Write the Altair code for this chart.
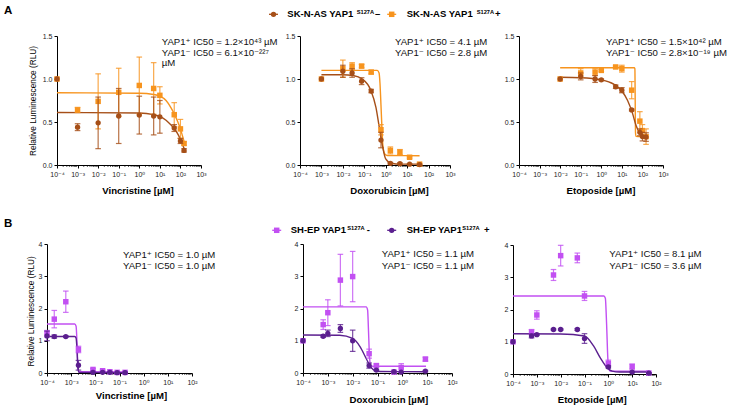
import altair as alt
import pandas as pd

W, H = 729, 408
FONT = "Liberation Sans, Arial, DejaVu Sans, sans-serif"

BROWN = "#a64f18"
ORANGE = "#f7941e"
LILAC = "#c250f2"
PURPLE = "#5b1f8f"

# ---------------- data ----------------
# Row A : SK-N-AS  (minus = brown circles, plus = orange squares)
A1_dose = [1e-4, 1e-3, 1e-2, 0.1, 1, 5, 10, 50, 100, 150]
A1_minus_mean = [1.00, 0.44, 0.49, 0.57, 0.58, 0.57, 0.56, 0.43, 0.28, 0.17]
A1_minus_err = [0, 0.04, 0.30, 0.32, 0.22, 0.22, 0.19, 0.04, 0.03, 0.02]
A1_plus_mean = [1.00, 0.64, 0.74, 0.845, 0.925, 0.89, 0.81, 0.585, 0.42, 0.25]
A1_plus_err = [0, 0.03, 0.32, 0.28, 0.33, 0.30, 0.10, 0.14, 0.11, 0.02]
A1_curve_dose = [1e-4, 1, 5, 10, 20, 35, 50, 75, 100, 125, 160]
A1_curve_plus = [0.84, 0.835, 0.82, 0.80, 0.75, 0.665, 0.595, 0.50, 0.42, 0.34, 0.25]
A1_curve_minus = [0.61, 0.605, 0.585, 0.565, 0.52, 0.465, 0.425, 0.36, 0.30, 0.245, 0.17]

A2_dose = [1e-3, 1e-2, 0.027, 0.075, 0.21, 0.6, 1.65, 4.6, 13, 38]
A2_minus_mean = [1.00, 1.09, 1.07, 0.975, 0.86, 0.29, 0.02, 0.015, 0.01, 0.005]
A2_minus_err = [0, 0.07, 0.05, 0.04, 0.02, 0.09, 0.01, 0.01, 0.005, 0.005]
A2_plus_mean = [1.00, 1.12, 1.15, 1.15, 1.08, 0.41, 0.17, 0.15, 0.09, 0.01]
A2_plus_err = [0, 0.10, 0.04, 0.02, 0.02, 0.06, 0.04, 0.03, 0.01, 0.01]
A2_curve_plus_dose = [1e-3, 0.1, 0.4, 0.49, 0.54, 0.6, 0.67, 0.74, 0.9, 1.2, 38]
A2_curve_plus = [1.10, 1.10, 1.10, 1.07, 0.95, 0.70, 0.42, 0.22, 0.13, 0.11, 0.108]
A2_curve_minus_dose = [1e-3, 0.01, 0.03, 0.08, 0.2, 0.35, 0.5, 0.72, 1.0, 1.8, 5, 38]
A2_curve_minus = [1.05, 1.05, 1.04, 1.0, 0.87, 0.67, 0.44, 0.21, 0.07, 0.02, 0.01, 0.01]

A3_dose = [0.01, 0.1, 0.5, 1, 5, 10, 30, 75, 100, 150]
A3_minus_mean = [1.00, 1.03, 1.00, 0.99, 0.91, 0.87, 0.64, 0.38, 0.33, 0.325]
A3_minus_err = [0, 0.04, 0.04, 0.01, 0.02, 0.03, 0.01, 0.04, 0.05, 0.05]
A3_plus_mean = [1.00, 1.07, 1.08, 1.10, 1.14, 1.12, 0.87, 0.51, 0.40, 0.33]
A3_plus_err = [0, 0.05, 0.04, 0.01, 0.01, 0.04, 0.10, 0.11, 0.07, 0.09]
A3_curve_plus_dose = [0.01, 40, 43, 44, 45, 46, 48, 180]
A3_curve_plus = [1.13, 1.13, 1.12, 0.90, 0.60, 0.38, 0.335, 0.33]
A3_curve_minus_dose = [0.01, 0.1, 1, 4, 10, 19, 33, 49, 71, 126, 180]
A3_curve_minus = [1.02, 1.015, 0.99, 0.94, 0.86, 0.75, 0.60, 0.46, 0.38, 0.33, 0.32]

# Row B : SH-EP  (minus = lilac squares, plus = dark purple circles)
B1_dose = [1e-4, 2e-4, 6e-4, 2e-3, 8e-3, 0.02, 0.04, 0.08, 0.17]
B1_minus_mean = [1.22, 1.67, 2.21, 0.73, 0.11, 0.07, 0.04, 0.02, 0.02]
B1_minus_err = [0.10, 0.27, 0.33, 0.10, 0.03, 0.02, 0.01, 0.01, 0.01]
B1_plus_mean = [1.15, 1.13, 1.13, 0.24, 0.02, 0.02, 0.02, 0.01, 0.01]
B1_plus_err = [0.15, 0.05, 0.02, 0.15, 0.01, 0.01, 0.01, 0.01, 0.01]
B1_curve_dose = [1e-4, 1.4e-3, 1.6e-3, 1.75e-3, 1.9e-3, 2.1e-3, 0.18]
B1_curve_minus = [1.52, 1.52, 1.45, 0.90, 0.20, 0.04, 0.03]
B1_curve_plus = [1.13, 1.13, 1.08, 0.70, 0.15, 0.02, 0.01]

B2_dose = [1e-4, 6.5e-4, 1e-3, 3.2e-3, 0.01, 0.046, 0.09, 0.46, 0.9, 8.5]
B2_minus_mean = [1.00, 1.50, 1.87, 2.88, 2.99, 0.60, 0.23, 0.03, 0.17, 0.43]
B2_minus_err = [0, 0.15, 0.40, 0.80, 0.78, 0.14, 0.05, 0.01, 0.12, 0.06]
B2_plus_mean = [1.00, 1.14, 1.23, 1.38, 1.00, 0.23, 0.09, 0.04, 0.03, 0.06]
B2_plus_err = [0, 0.03, 0.10, 0.12, 0.33, 0.08, 0.02, 0.01, 0.01, 0.02]
B2_curve_minus_dose = [1e-4, 0.035, 0.040, 0.043, 0.047, 0.052, 0.06, 9]
B2_curve_minus = [2.05, 2.05, 1.95, 1.40, 0.60, 0.25, 0.21, 0.21]
B2_curve_plus_dose = [1e-4, 3e-3, 0.01, 0.02, 0.035, 0.052, 0.083, 0.13, 9]
B2_curve_plus = [1.18, 1.17, 1.07, 0.81, 0.45, 0.20, 0.07, 0.045, 0.04]

B3_dose = [1e-4, 6e-4, 1e-3, 5e-3, 0.01, 0.05, 0.1, 1, 10, 50]
B3_minus_mean = [1.00, 1.30, 1.83, 3.07, 3.67, 3.60, 2.42, 0.33, 0.23, 0.03]
B3_minus_err = [0, 0.08, 0.13, 0.17, 0.32, 0.15, 0.14, 0.10, 0.08, 0.01]
B3_plus_mean = [1.00, 1.18, 1.22, 1.38, 1.38, 1.38, 1.10, 0.22, 0.06, 0.03]
B3_plus_err = [0, 0.06, 0.02, 0.02, 0.02, 0.03, 0.15, 0.03, 0.02, 0.01]
B3_curve_minus_dose = [1e-4, 0.65, 0.75, 0.85, 0.95, 1.05, 1.2, 55]
B3_curve_minus = [2.42, 2.42, 2.35, 1.50, 0.50, 0.15, 0.09, 0.09]
B3_curve_plus_dose = [1e-4, 0.01, 0.1, 0.24, 0.46, 0.88, 1.43, 3, 55]
B3_curve_plus = [1.25, 1.24, 1.18, 0.87, 0.50, 0.20, 0.09, 0.06, 0.06]

# texts
X_TITLES = ["Vincristine [µM]", "Doxorubicin [µM]", "Etoposide [µM]"]
Y_TITLE = "Relative Luminescence (RLU)"
IC50_A1 = ["YAP1⁺ IC50 = 1.2×10⁴³ µM", "YAP1⁻ IC50 = 6.1×10⁻²²⁷", "µM"]
IC50_A2 = ["YAP1⁺ IC50 = 4.1 µM", "YAP1⁻ IC50 = 2.8 µM"]
IC50_A3 = ["YAP1⁺ IC50 = 1.5×10⁴² µM", "YAP1⁻ IC50 = 2.8×10⁻¹⁹ µM"]
IC50_B1 = ["YAP1⁺ IC50 = 1.0 µM", "YAP1⁻ IC50 = 1.0 µM"]
IC50_B2 = ["YAP1⁺ IC50 = 1.1 µM", "YAP1⁻ IC50 = 1.1 µM"]
IC50_B3 = ["YAP1⁺ IC50 = 8.1 µM", "YAP1⁻ IC50 = 3.6 µM"]
LEG_A = [("SK-N-AS YAP1", "S127A", "–"), ("SK-N-AS YAP1", "S127A", "+")]
LEG_B = [("SH-EP YAP1", "S127A", "-"), ("SH-EP YAP1", "S127A", "+")]
DEC_LABELS = ["10⁻⁴", "10⁻³", "10⁻²", "10⁻¹", "10⁰", "10¹", "10²", "10³"]

LABEL_EXPR = "[" + ",".join("'%s'" % s for s in DEC_LABELS) + "][round(log(datum.value)/LN10)+4]"
DUMMY = pd.DataFrame({"k": [0]})


def txt(s, x, y, size=9.6, weight="normal", align="left", baseline="middle", color="#111111"):
    return alt.Chart(DUMMY).mark_text(
        text=s, align=align, baseline=baseline, font=FONT, fontSize=size,
        fontWeight=weight, color=color
    ).encode(x=alt.value(x), y=alt.value(y))


def panel(x0, x1, ybot, ytop, emax, ydom, yticks, yfmt, series, curves,
          xtitle, tpos, ytitle=None, ytpos=None):
    majors = [10.0 ** e for e in range(-4, emax + 1)]
    minors = [k * 10.0 ** e for e in range(-4, emax) for k in range(2, 10)]
    xs = alt.Scale(type="log", domain=[1e-4, 10.0 ** emax], range=[x0, x1], nice=False)
    ys = alt.Scale(domain=ydom, range=[ybot, ytop], nice=False, zero=False)
    xax = alt.Axis(orient="bottom", offset=ybot - H, values=majors, labelExpr=LABEL_EXPR,
                   labelFlush=False, labelOverlap=False, tickSize=3, labelPadding=2,
                   labelFontSize=7, labelFont=FONT, labelColor="#222",
                   domainColor="black", tickColor="black", grid=False,
                   title=xtitle, titleX=tpos[0], titleY=tpos[1] - ybot,
                   titleAlign="center", titleBaseline="middle", titleFont=FONT,
                   titleFontSize=9.6, titleFontWeight="bold", titleColor="black")
    yargs = dict(orient="left", offset=-x0, values=yticks, format=yfmt, labelFlush=False,
                 labelOverlap=False, tickSize=3, labelPadding=2, labelFontSize=7,
                 labelFont=FONT, labelColor="#222", domainColor="black",
                 tickColor="black", grid=False)
    if ytitle:
        yargs.update(title=ytitle, titleX=ytpos[0] - x0, titleY=ytpos[1], titleAngle=270,
                     titleAlign="center", titleBaseline="middle", titleFont=FONT,
                     titleFontSize=8.3, titleFontWeight="normal", titleColor="black")
    else:
        yargs.update(title=None)
    yax = alt.Axis(**yargs)
    X = lambda f: alt.X(f, scale=xs, axis=xax)
    Y = lambda f: alt.Y(f, scale=ys, axis=yax)

    layers = []
    mt = pd.DataFrame({"v": minors})
    layers.append(alt.Chart(mt).mark_rule(color="black", strokeWidth=0.8).encode(
        x=X("v:Q"), y=alt.value(ybot), y2=alt.value(ybot + 1.8)))
    for cd, cv, col in curves:
        df = pd.DataFrame({"dose": cd, "val": cv})
        layers.append(alt.Chart(df).mark_line(color=col, strokeWidth=1.4, interpolate="monotone")
                      .encode(x=X("dose:Q"), y=Y("val:Q")))
    for d, m, e, col, shape, size in series:
        df = pd.DataFrame({"dose": d, "mean": m, "err": e})
        df["lo"] = df["mean"] - df["err"]
        df["hi"] = df["mean"] + df["err"]
        eb = df[df["err"] > 0]
        caps = pd.concat([eb.assign(cap=eb["lo"]), eb.assign(cap=eb["hi"])])
        layers.append(alt.Chart(eb).mark_rule(color=col, strokeWidth=1.2, opacity=0.8)
                      .encode(x=X("dose:Q"), y=Y("lo:Q"), y2="hi:Q"))
        layers.append(alt.Chart(caps).mark_rule(color=col, strokeWidth=1.2, opacity=0.8,
                                                xOffset=-2.8, x2Offset=2.8)
                      .encode(x=X("dose:Q"), x2="dose:Q", y=Y("cap:Q")))
        layers.append(alt.Chart(df).mark_point(filled=True, shape=shape, size=size, color=col,
                                               opacity=1, strokeWidth=0)
                      .encode(x=X("dose:Q"), y=Y("mean:Q")))
    return alt.layer(*layers)


SQ, CI = 30, 28
RA = dict(ydom=[0, 1.5], yticks=[0, 0.5, 1.0, 1.5], yfmt=".1f", emax=3)
RB = dict(ydom=[0, 4], yticks=[0, 1, 2, 3, 4], yfmt="d", emax=2)

pA1 = panel(57, 201, 165, 36, series=[
    (A1_dose, A1_plus_mean, A1_plus_err, ORANGE, "square", SQ),
    (A1_dose, A1_minus_mean, A1_minus_err, BROWN, "circle", CI)],
    curves=[(A1_curve_dose, A1_curve_plus, ORANGE), (A1_curve_dose, A1_curve_minus, BROWN)],
    xtitle=X_TITLES[0], tpos=(137.5, 190), ytitle=Y_TITLE, ytpos=(33.3, 100.5), **RA)
pA2 = panel(300, 450, 165, 36, series=[
    (A2_dose, A2_plus_mean, A2_plus_err, ORANGE, "square", SQ),
    (A2_dose, A2_minus_mean, A2_minus_err, BROWN, "circle", CI)],
    curves=[(A2_curve_plus_dose, A2_curve_plus, ORANGE), (A2_curve_minus_dose, A2_curve_minus, BROWN)],
    xtitle=X_TITLES[1], tpos=(389, 190), **RA)
pA3 = panel(519, 663, 165, 36, series=[
    (A3_dose, A3_plus_mean, A3_plus_err, ORANGE, "square", SQ),
    (A3_dose, A3_minus_mean, A3_minus_err, BROWN, "circle", CI)],
    curves=[(A3_curve_plus_dose, A3_curve_plus, ORANGE), (A3_curve_minus_dose, A3_curve_minus, BROWN)],
    xtitle=X_TITLES[2], tpos=(600.5, 190), **RA)
pB1 = panel(47, 192, 373, 244, series=[
    (B1_dose, B1_minus_mean, B1_minus_err, LILAC, "square", SQ),
    (B1_dose, B1_plus_mean, B1_plus_err, PURPLE, "circle", CI)],
    curves=[(B1_curve_dose, B1_curve_minus, LILAC), (B1_curve_dose, B1_curve_plus, PURPLE)],
    xtitle=X_TITLES[0], tpos=(131, 395), ytitle=Y_TITLE, ytpos=(31.7, 310.8), **RB)
pB2 = panel(303, 452, 373, 244, series=[
    (B2_dose, B2_minus_mean, B2_minus_err, LILAC, "square", SQ),
    (B2_dose, B2_plus_mean, B2_plus_err, PURPLE, "circle", CI)],
    curves=[(B2_curve_minus_dose, B2_curve_minus, LILAC), (B2_curve_plus_dose, B2_curve_plus, PURPLE)],
    xtitle=X_TITLES[1], tpos=(388.3, 399), **RB)
pB3 = panel(513, 656, 374, 245, series=[
    (B3_dose, B3_minus_mean, B3_minus_err, LILAC, "square", SQ),
    (B3_dose, B3_plus_mean, B3_plus_err, PURPLE, "circle", CI)],
    curves=[(B3_curve_minus_dose, B3_curve_minus, LILAC), (B3_curve_plus_dose, B3_curve_plus, PURPLE)],
    xtitle=X_TITLES[2], tpos=(591.7, 399), **RB)

ann = []
# panel letters
ann.append(txt("A", 4, 14, size=11.5, weight="bold", baseline="alphabetic", color="black"))
ann.append(txt("B", 4, 227.3, size=11.5, weight="bold", baseline="alphabetic", color="black"))
# IC50 annotations
for lines, x, ys_ in [(IC50_A1, 161.7, [42, 52.5, 63]), (IC50_A2, 395, [42, 52.5]),
                      (IC50_A3, 606, [42, 52.5]), (IC50_B1, 123, [254.5, 265.5]),
                      (IC50_B2, 381.7, [254, 265.5]), (IC50_B3, 609.3, [254, 265.5])]:
    for s, yy in zip(lines, ys_):
        ann.append(txt(s, x, yy))


def legend_item(xc, y, color, shape, size, parts, xt, xs_, xd):
    out = [alt.Chart(DUMMY).mark_rule(color=color, strokeWidth=1.3).encode(
               x=alt.value(xc - 4.5), x2=alt.value(xc + 4.5), y=alt.value(y)),
           alt.Chart(DUMMY).mark_point(filled=True, shape=shape, size=size, color=color,
                                       opacity=1, strokeWidth=0).encode(
               x=alt.value(xc), y=alt.value(y))]
    out.append(txt(parts[0], xt, y, size=9.5, weight="bold", color="black"))
    out.append(txt(parts[1], xs_, y - 2.8, size=5.7, weight="bold", color="black"))
    out.append(txt(parts[2], xd, y, size=9.5, weight="bold", color="black"))
    return out


ann += legend_item(273.5, 14.3, BROWN, "circle", CI, LEG_A[0], 287.3, 356.7, 375)
ann += legend_item(391.7, 14.3, ORANGE, "square", SQ, LEG_A[1], 406.7, 476.7, 495)
ann += legend_item(276.7, 230.3, LILAC, "square", SQ, LEG_B[0], 290.7, 347.3, 366.7)
ann += legend_item(391.7, 230.3, PURPLE, "circle", CI, LEG_B[1], 406.7, 462.3, 484)

chart = alt.layer(pA1, pA2, pA3, pB1, pB2, pB3, *ann).resolve_scale(
    x="independent", y="independent"
).resolve_axis(
    x="independent", y="independent"
).properties(
    width=W, height=H, padding=0, autosize=alt.AutoSizeParams(type="none"),
    background="white"
).configure_view(stroke=None)

chart.save("out.html", embed_options={"renderer": "svg", "actions": False})
